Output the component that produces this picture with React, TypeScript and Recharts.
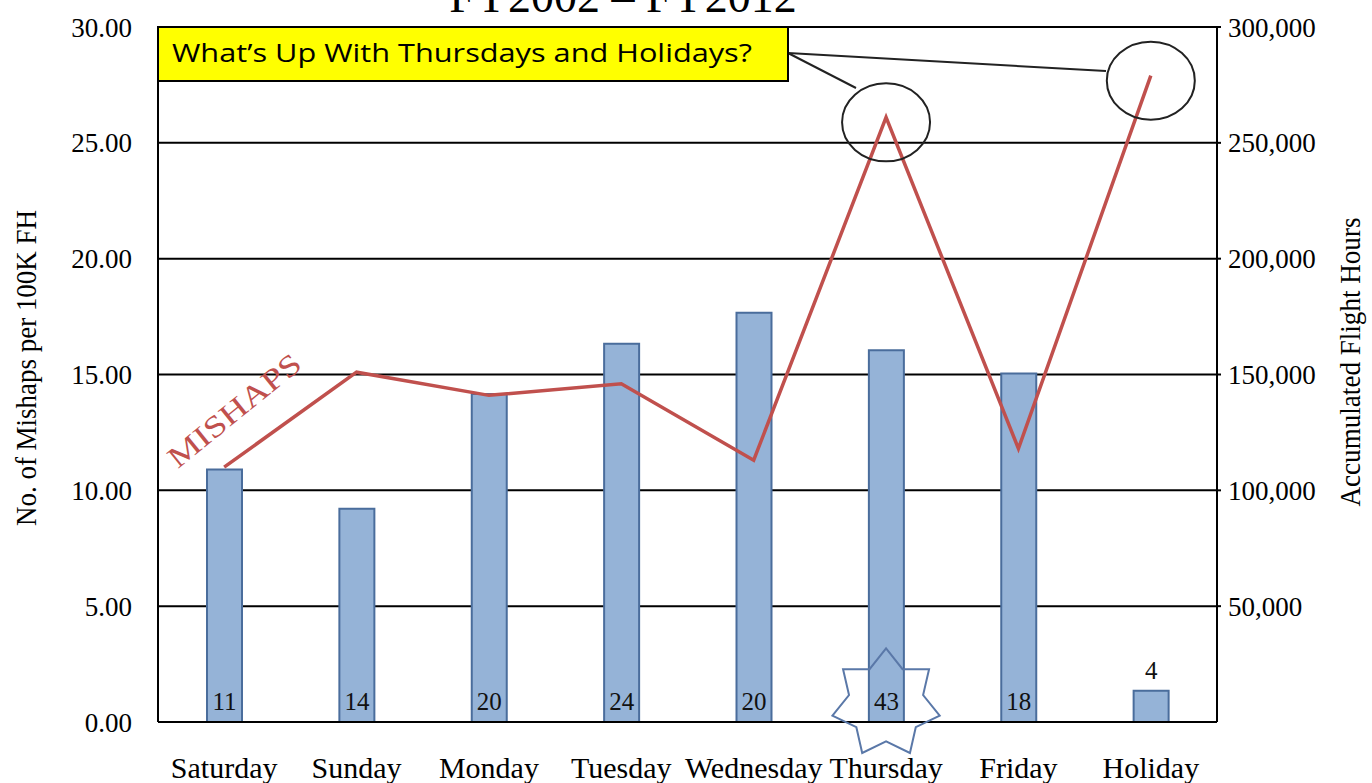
import React from 'react';
import {
  ComposedChart,
  Bar,
  Line,
  XAxis,
  YAxis,
  CartesianGrid,
  LabelList,
  ReferenceDot,
} from 'recharts';

const categories = ['Saturday', 'Sunday', 'Monday', 'Tuesday', 'Wednesday', 'Thursday', 'Friday', 'Holiday'];
const flightHours = [109000, 92000, 141600, 163300, 176700, 160500, 150400, 13500];
const mishapRate = [11.0, 15.1, 14.1, 14.6, 11.3, 26.1, 11.8, 27.9];
const mishapCounts = [11, 14, 20, 24, 20, 43, 18, 4];
const leftTicks = [0, 5, 10, 15, 20, 25, 30];
const rightTicks = [50000, 100000, 150000, 200000, 250000, 300000];

const data = categories.map((day, i) => ({
  day,
  hours: flightHours[i],
  rate: mishapRate[i],
  mishaps: mishapCounts[i],
}));

const SERIF = '"Liberation Serif", "Times New Roman", serif';
const SANS = '"Open Sans", "Liberation Sans", sans-serif';

const W = 1372;
const H = 783;

const BarCountLabel = (props: any) => {
  const { x, y, width, height, value } = props;
  const cx = Number(x) + Number(width) / 2;
  const h = Number(height);
  const ty = h > 40 ? Number(y) + h - 12 : Number(y) - 12;
  return (
    <text x={cx} y={ty} textAnchor="middle" fontFamily={SERIF} fontSize={25} fill="#111">
      {value}
    </text>
  );
};

const EllipseShape = (props: any) => {
  const { cx, cy } = props;
  return <ellipse cx={cx} cy={cy + 5} rx={44} ry={39} fill="none" stroke="#222" strokeWidth={2} />;
};

const StarShape = (props: any) => {
  const { cx, cy } = props;
  const n = 7;
  const R = 55;
  const r = 38;
  const pts: string[] = [];
  for (let k = 0; k < n * 2; k++) {
    const ang = -Math.PI / 2 + (k * Math.PI) / n;
    const rad = k % 2 === 0 ? R : r;
    pts.push(`${cx + rad * Math.cos(ang)},${cy + rad * Math.sin(ang)}`);
  }
  return <polygon points={pts.join(' ')} fill="none" stroke="#5a78a8" strokeWidth={2} />;
};

export default function App() {
  return (
    <div style={{ position: 'absolute', left: 0, top: 0, width: W, height: H, background: '#fff', overflow: 'hidden' }}>
      <ComposedChart
        width={W}
        height={H}
        data={data}
        margin={{ top: 27, right: 55, bottom: 11, left: 58 }}
      >
        <CartesianGrid vertical={false} stroke="#000" strokeWidth={2} />
        <XAxis
          dataKey="day"
          axisLine={{ stroke: '#000', strokeWidth: 2 }}
          tickLine={false}
          tickSize={0}
          tickMargin={35}
          height={50}
          interval={0}
          tick={{ fill: '#000', fontSize: 30, fontFamily: SERIF }}
        />
        <YAxis
          domain={[0, 30]}
          ticks={leftTicks}
          width={100}
          axisLine={{ stroke: '#000', strokeWidth: 2 }}
          tickLine={false}
          tickSize={0}
          tickMargin={26}
          tickFormatter={(v: number) => v.toFixed(2)}
          tick={{ fill: '#000', fontSize: 27, fontFamily: SERIF }}
        />
        <YAxis
          yAxisId="right"
          orientation="right"
          domain={[0, 300000]}
          ticks={rightTicks}
          width={100}
          axisLine={{ stroke: '#000', strokeWidth: 2 }}
          tickLine={{ stroke: '#000', strokeWidth: 2 }}
          tickSize={4}
          tickMargin={7}
          tickFormatter={(v: number) => v.toLocaleString('en-US')}
          tick={{ fill: '#000', fontSize: 27, fontFamily: SERIF }}
        />
        <Bar
          yAxisId="right"
          dataKey="hours"
          barSize={35}
          fill="#95b3d7"
          stroke="#4a6d9c"
          strokeWidth={2}
          isAnimationActive={false}
        >
          <LabelList dataKey="mishaps" content={BarCountLabel} />
        </Bar>
        <Line
          dataKey="rate"
          stroke="#c0504d"
          strokeWidth={3.5}
          dot={false}
          activeDot={false}
          isAnimationActive={false}
        />
        <ReferenceDot x="Thursday" y={mishapRate[5]} shape={EllipseShape} ifOverflow="visible" />
        <ReferenceDot x="Holiday" y={mishapRate[7]} shape={EllipseShape} ifOverflow="visible" />
        <ReferenceDot x="Thursday" y={0.8} shape={StarShape} ifOverflow="visible" />
      </ComposedChart>

      <svg
        width={W}
        height={H}
        style={{ position: 'absolute', left: 0, top: 0, pointerEvents: 'none' }}
      >
        <text x={623} y={12} textAnchor="middle" fontFamily={SERIF} fontSize={46} fill="#000">
          FY2002 – FY2012
        </text>

        <line x1={788} y1={53} x2={856} y2={88} stroke="#222" strokeWidth={2} />
        <line x1={788} y1={53} x2={1106} y2={71} stroke="#222" strokeWidth={2} />
        <rect x={158} y={27} width={630} height={54} fill="#ffff00" stroke="#000" strokeWidth={2} />
        <text
          x={172}
          y={62}
          fontFamily={SANS}
          fontSize={26}
          fill="#000"
          textLength={580}
          lengthAdjust="spacingAndGlyphs"
        >
          What’s Up With Thursdays and Holidays?
        </text>

        <text
          transform="translate(234,410) rotate(-39)"
          textAnchor="middle"
          dy="0.35em"
          fontFamily={SERIF}
          fontSize={30}
          fill="#c0504d"
          textLength={162}
          lengthAdjust="spacingAndGlyphs"
        >
          MISHAPS
        </text>

        <text
          transform="translate(36,368) rotate(-90)"
          textAnchor="middle"
          fontFamily={SERIF}
          fontSize={29}
          fill="#000"
          textLength={316}
          lengthAdjust="spacingAndGlyphs"
        >
          No. of Mishaps per 100K FH
        </text>
        <text
          transform="translate(1360,362) rotate(-90)"
          textAnchor="middle"
          fontFamily={SERIF}
          fontSize={29}
          fill="#000"
          textLength={289}
          lengthAdjust="spacingAndGlyphs"
        >
          Accumulated Flight Hours
        </text>
      </svg>
    </div>
  );
}
